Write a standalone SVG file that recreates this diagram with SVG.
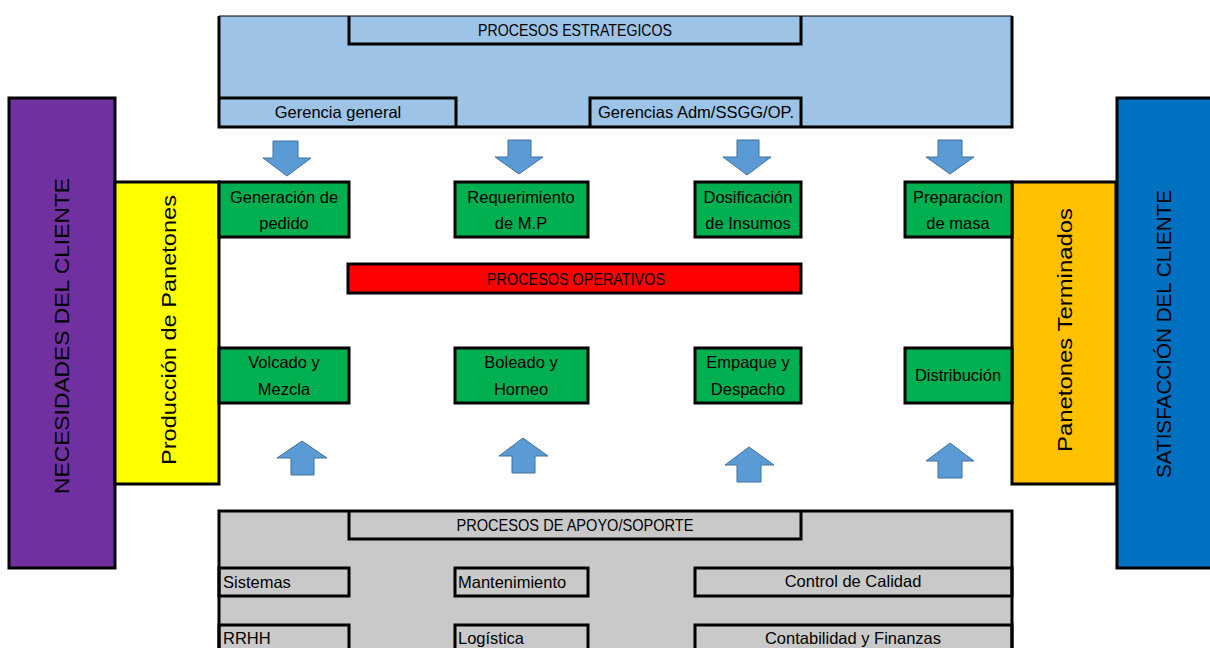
<svg xmlns="http://www.w3.org/2000/svg" width="1210" height="648" viewBox="0 0 1210 648">
<style>
.t{font-family:"Liberation Sans",Arial,sans-serif;font-size:16.5px;fill:#000}
.c{text-anchor:middle}
.v{font-family:"Liberation Sans",Arial,sans-serif;font-size:20px;fill:#000;text-anchor:middle;dominant-baseline:central}
.b{stroke:#000;stroke-width:3;fill:none}
.g{fill:#00b050;stroke:#000;stroke-width:3}
.arr{fill:#5b9bd5;stroke:#41719c;stroke-width:1}
</style>
<rect width="1210" height="648" fill="#fff"/>
<g id="necesidades">
<rect x="9" y="98" width="106" height="470" fill="#7030a0" stroke="#000" stroke-width="3"/>
<text class="v" transform="translate(62,336) rotate(-90)" textLength="316" lengthAdjust="spacingAndGlyphs">NECESIDADES DEL CLIENTE</text>
</g>
<g id="produccion">
<rect x="115" y="182" width="104" height="302" fill="#ffff00" stroke="#000" stroke-width="3"/>
<text class="v" transform="translate(169,330) rotate(-90)" textLength="270" lengthAdjust="spacingAndGlyphs">Producción de Panetones</text>
</g>
<g id="terminados">
<rect x="1012" y="182" width="104" height="302" fill="#ffc000" stroke="#000" stroke-width="3"/>
<text class="v" transform="translate(1065,330) rotate(-90)" textLength="244" lengthAdjust="spacingAndGlyphs">Panetones Terminados</text>
</g>
<g id="satisfaccion">
<rect x="1117" y="98" width="100" height="470" fill="#0070c0" stroke="#000" stroke-width="3"/>
<text class="v" transform="translate(1164,334) rotate(-90)" textLength="288" lengthAdjust="spacingAndGlyphs">SATISFACCIÓN DEL CLIENTE</text>
</g>
<g id="estrategicos">
<rect x="219" y="16" width="793" height="111" fill="#9dc3e6"/>
<line x1="219" y1="16" x2="1012" y2="16" stroke="#000" stroke-width="1"/>
<path class="b" d="M219,16 V127 H1012 V16"/>
<path class="b" d="M349,16 V44 H801 V16"/>
<text class="t c" x="575" y="36" textLength="194" lengthAdjust="spacingAndGlyphs">PROCESOS ESTRATEGICOS</text>
</g>
<g id="gerencia-general">
<path class="b" d="M219,98 H456 V127"/>
<text class="t c" x="338" y="118">Gerencia general</text>
</g>
<g id="gerencias-adm">
<path class="b" d="M590,127 V98 H801 V127"/>
<text class="t c" x="696" y="118">Gerencias Adm/SSGG/OP.</text>
</g>
<g id="generacion">
<rect class="g" x="219" y="182" width="130" height="55"/>
<text class="t c" x="284" y="203">Generación de</text>
<text class="t c" x="284" y="229">pedido</text>
</g>
<g id="requerimiento">
<rect class="g" x="455" y="182" width="133" height="55"/>
<text class="t c" x="521" y="203">Requerimiento</text>
<text class="t c" x="521" y="229">de M.P</text>
</g>
<g id="dosificacion">
<rect class="g" x="695" y="182" width="106" height="55"/>
<text class="t c" x="748" y="203">Dosificación</text>
<text class="t c" x="748" y="229">de Insumos</text>
</g>
<g id="preparacion">
<rect class="g" x="905" y="182" width="107" height="55"/>
<text class="t c" x="958" y="203">Preparacíon</text>
<text class="t c" x="958" y="229">de masa</text>
</g>
<g id="operativos">
<rect x="348" y="264" width="453" height="29" fill="#ff0000" stroke="#000" stroke-width="3"/>
<text class="t c" x="576" y="285" textLength="178" lengthAdjust="spacingAndGlyphs">PROCESOS OPERATIVOS</text>
</g>
<g id="volcado">
<rect class="g" x="219" y="348" width="130" height="55"/>
<text class="t c" x="284" y="368">Volcado y</text>
<text class="t c" x="284" y="395">Mezcla</text>
</g>
<g id="boleado">
<rect class="g" x="455" y="348" width="133" height="55"/>
<text class="t c" x="521" y="368">Boleado y</text>
<text class="t c" x="521" y="395">Horneo</text>
</g>
<g id="empaque">
<rect class="g" x="695" y="348" width="106" height="55"/>
<text class="t c" x="748" y="368">Empaque y</text>
<text class="t c" x="748" y="395">Despacho</text>
</g>
<g id="distribucion">
<rect class="g" x="905" y="348" width="107" height="55"/>
<text class="t c" x="958" y="381">Distribución</text>
</g>
<g id="apoyo">
<rect x="219" y="511" width="793" height="140" fill="#c9c9c9"/>
<path class="b" d="M219,650 V511 H1012 V650"/>
<path class="b" d="M349,511 V539 H801 V511"/>
<text class="t c" x="575" y="531" textLength="237" lengthAdjust="spacingAndGlyphs">PROCESOS DE APOYO/SOPORTE</text>
</g>
<g id="sistemas">
<rect class="b" x="219" y="568" width="130" height="28"/>
<text class="t" x="223" y="588">Sistemas</text>
</g>
<g id="mantenimiento">
<rect class="b" x="455" y="568" width="133" height="28"/>
<text class="t" x="458" y="588">Mantenimiento</text>
</g>
<g id="calidad">
<rect class="b" x="695" y="568" width="317" height="28"/>
<text class="t c" x="853" y="587">Control de Calidad</text>
</g>
<g id="rrhh">
<rect class="b" x="219" y="625" width="130" height="30"/>
<text class="t" x="223" y="644">RRHH</text>
</g>
<g id="logistica">
<rect class="b" x="455" y="625" width="133" height="30"/>
<text class="t" x="458" y="644">Logística</text>
</g>
<g id="contabilidad">
<rect class="b" x="695" y="625" width="317" height="30"/>
<text class="t c" x="853" y="644">Contabilidad y Finanzas</text>
</g>
<g id="connectors">
<path class="arr" d="M273,141 H298 V158 H311 L287,176 L263,158 H273 Z"/>
<path class="arr" d="M508,140 H531 V157 H543 L519,174 L495,157 H508 Z"/>
<path class="arr" d="M737,140 H759 V157 H771 L747,175 L723,157 H737 Z"/>
<path class="arr" d="M938,140 H962 V157 H974 L950,174 L926,157 H938 Z"/>
<path class="arr" d="M291,475 H314 V458 H327 L302,441 L277,458 H291 Z"/>
<path class="arr" d="M512,473 H535 V456 H548 L523,438 L499,456 H512 Z"/>
<path class="arr" d="M737,482 H761 V465 H774 L749,447 L725,465 H737 Z"/>
<path class="arr" d="M938,478 H962 V461 H974 L950,443 L926,461 H938 Z"/>
</g>
</svg>
